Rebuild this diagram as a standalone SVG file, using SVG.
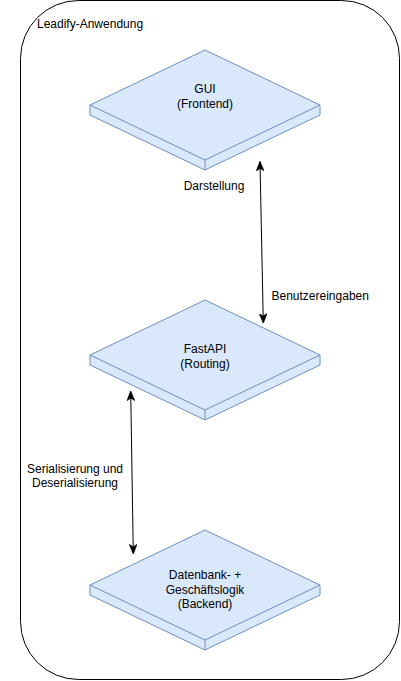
<svg xmlns="http://www.w3.org/2000/svg" width="401" height="681" viewBox="0 0 401 681">
<style>
.slab{fill:#dae8fc;stroke:#6c8ebf;stroke-width:1;stroke-linejoin:round}
.t{font-family:"Liberation Sans",Arial,sans-serif;font-size:12px;fill:#000}
.c{text-anchor:middle}
.conn{stroke:#000;stroke-width:1;fill:none}
</style>
<defs>
<marker id="arr" viewBox="0 0 10 8" refX="9" refY="4" markerWidth="10" markerHeight="8" markerUnits="userSpaceOnUse" orient="auto-start-reverse">
<path d="M0,0 L10,4 L0,8 L2.5,4 Z" fill="#000" stroke="#000" stroke-width="0.5"/>
</marker>
</defs>
<g id="container">
<rect x="20.5" y="0.5" width="379" height="679" rx="58" ry="58" fill="#fff" stroke="#000"/>
<text class="t" x="37" y="28">Leadify-Anwendung</text>
</g>
<g id="gui">
<path class="slab" d="M205,50 L320,105 L320,115 L205,170 L90,115 L90,105 Z"/>
<path class="slab" d="M90,105 L205,160 L320,105 M205,160 L205,170" fill="none"/>
<text class="t c" x="205" y="93">GUI</text>
<text class="t c" x="205" y="107.5">(Frontend)</text>
</g>
<g id="fastapi">
<path class="slab" d="M205,300 L320,355 L320,365 L205,420 L90,365 L90,355 Z"/>
<path class="slab" d="M90,355 L205,410 L320,355 M205,410 L205,420" fill="none"/>
<text class="t c" x="205" y="353">FastAPI</text>
<text class="t c" x="205" y="367.5">(Routing)</text>
</g>
<g id="backend">
<path class="slab" d="M205,530 L320,585 L320,595 L205,650 L90,595 L90,585 Z"/>
<path class="slab" d="M90,585 L205,640 L320,585 M205,640 L205,650" fill="none"/>
<text class="t c" x="205" y="579">Datenbank- +</text>
<text class="t c" x="205" y="593.5">Geschäftslogik</text>
<text class="t c" x="205" y="608">(Backend)</text>
</g>
<g id="connectors">
<line class="conn" x1="260" y1="162" x2="263.3" y2="322.5" marker-start="url(#arr)" marker-end="url(#arr)"/>
<line class="conn" x1="130.7" y1="391.7" x2="133.3" y2="553.3" marker-start="url(#arr)" marker-end="url(#arr)"/>
<text class="t c" x="214" y="189.5">Darstellung</text>
<text class="t" x="271.5" y="300">Benutzereingaben</text>
<text class="t c" x="75" y="472.5">Serialisierung und</text>
<text class="t c" x="75" y="487">Deserialisierung</text>
</g>
</svg>
